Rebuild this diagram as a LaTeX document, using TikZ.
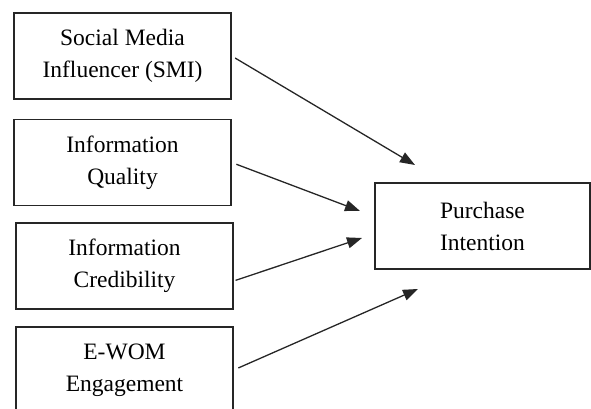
\documentclass[tikz,border=0pt]{standalone}
\usepackage{fontspec}
\setmainfont{Liberation Serif}
\usetikzlibrary{arrows.meta}
\begin{document}
\begin{tikzpicture}[x=1pt,y=1pt,
  factor/.style={draw=black!85,line width=1.4pt,rectangle,minimum width=217pt,minimum height=86pt,
    align=center,inner sep=0pt,font=\fontsize{23.5}{32}\selectfont},
  link/.style={draw=black!85,line width=1.3pt,-{Triangle[length=15pt,width=11pt]}}]
\useasboundingbox (0,0) rectangle (591,409);
\begin{scope}
\clip (0,0) rectangle (591,409);
\node[factor] (smi) at (122.5,353) {Social Media\\Influencer (SMI)};
\node[factor] (iq) at (122.5,246.5) {Information\\Quality};
\node[factor] (ic) at (124.5,143) {Information\\Credibility};
\node[factor] (ewom) at (124.5,39) {E-WOM\\Engagement};
\node[factor,minimum width=215pt] (pi) at (482.5,183) {Purchase\\Intention};
\end{scope}
\coordinate (t1) at (415,244);
\coordinate (t2) at (360,198);
\coordinate (t3) at (362,171);
\coordinate (t4) at (418,120);
\coordinate (s3) at ([yshift=-15pt]ic.east);
\draw[link,shorten <=4pt] (smi.east) -- (t1);
\draw[link,shorten <=5pt] (iq.east) -- (t2);
\draw[link,shorten <=2pt] (s3) -- (t3);
\draw[link,shorten <=5pt] (ewom.east) -- (t4);
\end{tikzpicture}
\end{document}
